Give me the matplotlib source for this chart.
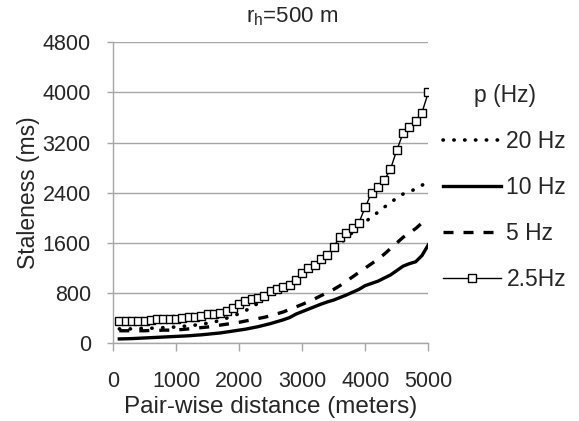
import matplotlib
matplotlib.use("Agg")
import matplotlib.pyplot as plt

plt.rcParams['font.family'] = ['Liberation Sans', 'DejaVu Sans']

distance = list(range(100, 5001, 100))

s20 = [230, 230, 230, 235, 240, 240, 245, 250, 255, 260,
       270, 280, 290, 305, 320, 340, 365, 400, 440, 470,
       520, 575, 640, 700, 760, 820, 880, 940, 1010, 1080,
       1150, 1230, 1310, 1400, 1500, 1590, 1680, 1770, 1860, 1940,
       2010, 2090, 2170, 2240, 2320, 2380, 2420, 2460, 2520, 2580]

s10 = [70, 72, 75, 80, 85, 90, 95, 100, 105, 110,
       115, 120, 128, 135, 145, 155, 165, 180, 195, 210,
       225, 245, 265, 290, 315, 345, 375, 410, 465, 505,
       545, 585, 625, 660, 690, 730, 770, 815, 860, 920,
       955, 990, 1040, 1090, 1160, 1230, 1270, 1300, 1400, 1570]

s5 = [200, 200, 200, 200, 200, 205, 205, 210, 210, 215,
      220, 230, 240, 250, 260, 275, 290, 305, 320, 335,
      355, 375, 395, 415, 440, 470, 500, 540, 580, 620,
      665, 710, 760, 810, 860, 920, 990, 1060, 1130, 1200,
      1270, 1340, 1420, 1510, 1600, 1690, 1760, 1830, 1920, 2000]

s2_5 = [360, 360, 360, 360, 360, 365, 385, 390, 390, 395,
        400, 420, 425, 430, 460, 470, 480, 520, 570, 620,
        670, 700, 730, 755, 840, 860, 900, 930, 1010, 1115,
        1195, 1250, 1340, 1405, 1540, 1700, 1765, 1835, 1925, 2170,
        2400, 2495, 2600, 2775, 3080, 3350, 3445, 3550, 3680, 4000]

xticks = [0, 1000, 2000, 3000, 4000, 5000]
yticks = [0, 800, 1600, 2400, 3200, 4000, 4800]

txt = '#262626'
grid_c = '#a6a6a6'

fig = plt.figure(figsize=(5.79, 4.21), dpi=100)
ax = fig.add_axes([113/579, 1 - 343.3/421, (428.3 - 113)/579, (343.3 - 42.3)/421])

l20, = ax.plot(distance, s20, color='black', lw=2.6, linestyle=(0, (0.1, 2.9)),
               dash_capstyle='round', label='20 Hz')
l10, = ax.plot(distance, s10, color='black', lw=2.4, label='10 Hz')
l5, = ax.plot(distance, s5, color='black', lw=2.4, linestyle=(0, (3.0, 3.0)), label='5 Hz')
l25, = ax.plot(distance, s2_5, color='black', lw=1.0, marker='s', markersize=5.2,
               markerfacecolor='white', markeredgecolor='black', markeredgewidth=1.0,
               label='2.5Hz')

ax.set_xlim(0, 5000)
ax.set_ylim(0, 4800)
ax.set_xticks(xticks)
ax.set_yticks(yticks)
ax.tick_params(axis='both', labelsize=15.5, colors=grid_c, labelcolor=txt,
               direction='out', width=1)
ax.tick_params(axis='x', length=6, pad=14)
ax.tick_params(axis='y', length=4, pad=12)
ax.yaxis.grid(True, color=grid_c, lw=1)
ax.set_axisbelow(True)
for side in ['top', 'right']:
    ax.spines[side].set_visible(False)
for side in ['left', 'bottom']:
    ax.spines[side].set_color(grid_c)
    ax.spines[side].set_linewidth(1)

ax.set_xlabel('Pair-wise distance (meters)', fontsize=17.5, color=txt, labelpad=3)
ax.set_ylabel('Staleness (ms)', fontsize=16.5, color=txt, labelpad=2)

fig.text(292/579, 1 - 17/421, r'r$_\mathregular{h}$=500 m', fontsize=16, color=txt,
         ha='center', va='center')

leg = fig.legend(handles=[l20, l10, l5, l25], title='p (Hz)', loc='upper left',
                 bbox_to_anchor=(443/579, 1 - 84/421), frameon=False,
                 fontsize=16.5, title_fontsize=16.5, handlelength=2.55,
                 handletextpad=0.22, labelspacing=1.0, borderpad=0,
                 borderaxespad=0)
for t in leg.get_texts():
    t.set_color(txt)
leg.get_title().set_color(txt)

fig.savefig('out.png', dpi=100)
